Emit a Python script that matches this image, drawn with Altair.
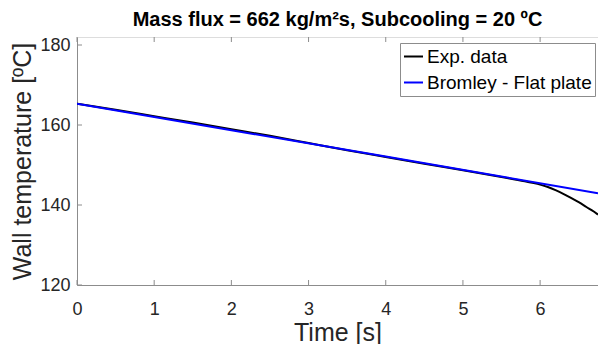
import altair as alt
import pandas as pd

# Experimental wall temperature (black curve)
time_exp = [0.0, 0.5, 1.0, 1.5, 2.0, 2.5, 3.0, 3.5, 4.0, 4.5, 5.0, 5.5, 5.8,
            5.9, 6.0, 6.1, 6.2, 6.3, 6.4, 6.5, 6.6, 6.7, 6.75]
temp_exp = [165.3, 163.8, 162.2, 160.6, 158.95, 157.3, 155.5, 153.7, 152.0,
            150.3, 148.7, 147.0, 145.95, 145.55, 145.1, 144.5, 143.7, 142.8,
            141.8, 140.7, 139.5, 138.3, 137.6]

# Bromley flat-plate model (blue line)
time_model = [0.0, 2.0, 4.0, 6.75]
temp_model = [165.3, 158.7, 152.1, 142.95]

series = ["Exp. data", "Bromley - Flat plate"]
colors = ["#000000", "#0000ff"]

x_ticks = [0, 1, 2, 3, 4, 5, 6]
y_ticks = [120, 140, 160, 180]
x_domain = [0, 6.75]
y_domain = [120, 182]

df_exp = pd.DataFrame({"t": time_exp, "T": temp_exp, "s": series[0]})
df_mod = pd.DataFrame({"t": time_model, "T": temp_model, "s": series[1]})
df_xt = pd.DataFrame({"t": x_ticks})
df_yt = pd.DataFrame({"T": y_ticks})

FONT = "Liberation Sans"
W, H = 521, 248
AX = "#8c8c8c"

x_enc = alt.X("t:Q", scale=alt.Scale(domain=x_domain, nice=False, zero=False),
              axis=alt.Axis(values=x_ticks, title="Time [s]", grid=False,
                            ticks=False, tickSize=0, labelPadding=15,
                            labelFontSize=18, titleFontSize=25,
                            titlePadding=2, titleFontWeight="normal",
                            labelColor="#262626", titleColor="#262626",
                            domainColor=AX, labelFont=FONT, titleFont=FONT,
                            format="d", labelFlush=False))
y_enc = alt.Y("T:Q", scale=alt.Scale(domain=y_domain, nice=False, zero=False),
              axis=alt.Axis(values=y_ticks, title="Wall temperature [ºC]", grid=False,
                            ticks=False, tickSize=0, labelPadding=7,
                            labelFontSize=18, titleFontSize=25,
                            titlePadding=4, titleFontWeight="normal",
                            labelColor="#262626", titleColor="#262626",
                            domainColor=AX, labelFont=FONT, titleFont=FONT,
                            format="d", labelFlush=False))

color_enc = alt.Color("s:N", scale=alt.Scale(domain=series, range=colors),
                      legend=alt.Legend(title=None, orient="none",
                                        legendX=323, legendY=6,
                                        symbolType="stroke", symbolSize=361,
                                        symbolStrokeWidth=2, labelFontSize=19,
                                        labelFont=FONT, labelColor="#000000",
                                        labelOffset=3, padding=3, rowPadding=5,
                                        fillColor="white", strokeColor=AX,
                                        labelLimit=400))

line_exp = alt.Chart(df_exp).mark_line(strokeWidth=2, clip=True,
                                       interpolate="monotone").encode(
    x=x_enc, y=y_enc, color=color_enc)
line_mod = alt.Chart(df_mod).mark_line(strokeWidth=2, clip=True).encode(
    x=x_enc, y=y_enc, color=color_enc)

tick_bottom = alt.Chart(df_xt).mark_rule(color=AX, strokeWidth=1).encode(
    x="t:Q", y=alt.value(H), y2=alt.value(H - 5))
tick_top = alt.Chart(df_xt).mark_rule(color=AX, strokeWidth=1).encode(
    x="t:Q", y=alt.value(0), y2=alt.value(5))
tick_left = alt.Chart(df_yt).mark_rule(color=AX, strokeWidth=1).encode(
    y="T:Q", x=alt.value(0), x2=alt.value(5))

chart = alt.layer(tick_bottom, tick_top, tick_left, line_exp, line_mod).properties(
    width=W, height=H,
    title=alt.Title("Mass flux = 662 kg/m²s, Subcooling = 20 ºC", font=FONT,
                    fontSize=20, fontWeight="bold", color="#000000",
                    anchor="middle", offset=6),
    padding={"left": 77, "top": 37, "right": 0, "bottom": 59},
    autosize=alt.AutoSizeParams(type="none"),
).configure_view(stroke=AX, strokeWidth=1).configure(background="white")

chart.save("out.html", embed_options={"renderer": "svg", "actions": False})
